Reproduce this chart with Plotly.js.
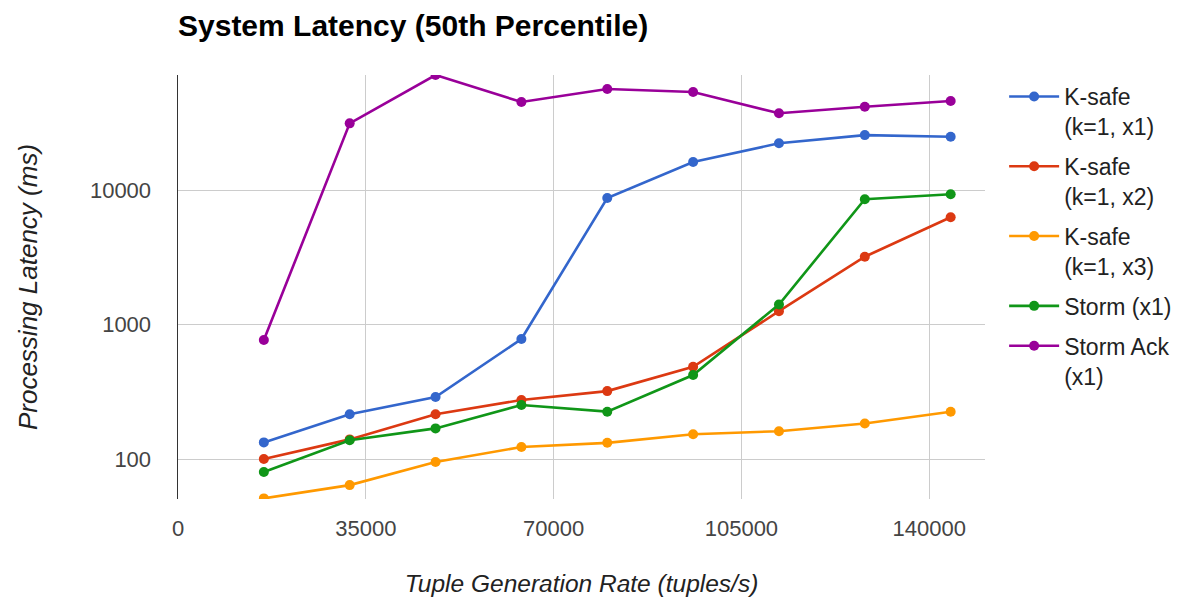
<!DOCTYPE html>
<html>
<head>
<meta charset="utf-8">
<script src="https://cdn.plot.ly/plotly-3.0.1.min.js"></script>
<style>html,body{margin:0;padding:0;background:#fff;}#chart{width:1190px;height:599px;}</style>
</head>
<body>
<div id="chart"></div>
<script>
// Data
const rates = [16000, 32000, 48000, 64000, 80000, 96000, 112000, 128000, 144000];
const ksafeX1 = [133, 215, 289, 780, 8720, 16150, 22250, 25600, 24900];
const ksafeX2 = [100, 140, 215, 275, 320, 485, 1256, 3190, 6270];
const ksafeX3 = [51, 64, 95, 123, 132, 153, 161, 184, 225];
const stormX1 = [80, 138, 169, 252, 225, 421, 1409, 8530, 9290];
const stormAckX1 = [767, 31300, 71600, 45100, 56300, 53600, 37200, 41600, 45900];

const seriesNames = ["K-safe<br>(k=1, x1)", "K-safe<br>(k=1, x2)", "K-safe<br>(k=1, x3)", "Storm (x1)", "Storm Ack<br>(x1)"];
const seriesValues = [ksafeX1, ksafeX2, ksafeX3, stormX1, stormAckX1];
const seriesColors = ["#3366cc", "#dc3912", "#ff9900", "#109618", "#990099"];

const xTickVals = [0, 35000, 70000, 105000, 140000];
const yTickVals = [100, 1000, 10000];

const font = "Liberation Sans, Arial, sans-serif";

const traces = seriesValues.map((vals, i) => ({
  type: "scatter",
  mode: "lines+markers",
  name: seriesNames[i],
  x: rates,
  y: vals,
  line: {color: seriesColors[i], width: 2.6},
  marker: {color: seriesColors[i], size: 10},
  legendgroup: "g" + i
}));

const layout = {
  width: 1190,
  height: 599,
  margin: {l: 178, r: 205, t: 75, b: 100, autoexpand: false},
  paper_bgcolor: "#ffffff",
  plot_bgcolor: "#ffffff",
  font: {family: font, color: "#444"},
  title: {
    text: "<b>System Latency (50th Percentile)</b>",
    font: {family: font, size: 30, color: "#000"},
    x: 178 / 1190, xanchor: "left",
    y: 1 - 25 / 599, yanchor: "middle"
  },
  xaxis: {
    range: [0, 150400],
    tickvals: xTickVals,
    ticktext: xTickVals.map(String),
    showgrid: true,
    gridcolor: "#cccccc",
    gridwidth: 1,
    zeroline: false,
    showline: false,
    ticks: "",
    ticklabelstandoff: 14,
    tickfont: {family: font, size: 22, color: "#444"},
    title: {
      text: "<i>Tuple Generation Rate (tuples/s)</i>",
      font: {family: font, size: 24.5, color: "#222"},
      standoff: 34
    }
  },
  yaxis: {
    type: "log",
    range: [1.703, 4.855],
    tickvals: yTickVals,
    ticktext: yTickVals.map(String),
    showgrid: true,
    gridcolor: "#cccccc",
    gridwidth: 1,
    zeroline: false,
    showline: true,
    linecolor: "#333333",
    linewidth: 1.5,
    ticks: "",
    ticklabelstandoff: 21,
    tickfont: {family: font, size: 22, color: "#444"},
    title: {
      text: "<i>Processing Latency (ms)</i>",
      font: {family: font, size: 26, color: "#222"},
      standoff: 45
    }
  },
  showlegend: true,
  legend: {
    x: 1.0237, xanchor: "left",
    y: 1.0, yanchor: "top",
    font: {family: font, size: 23, color: "#222"},
    tracegroupgap: 7,
    valign: "top",
    itemwidth: 50,
    bgcolor: "rgba(0,0,0,0)"
  }
};

Plotly.newPlot("chart", traces, layout, {displayModeBar: false, staticPlot: true});
</script>
</body>
</html>
